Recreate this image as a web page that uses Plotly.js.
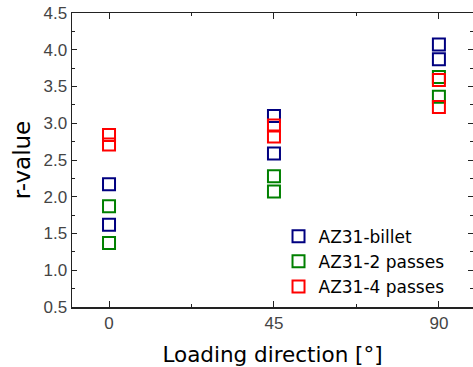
<!DOCTYPE html>
<html><head><meta charset="utf-8">
<script src="https://cdn.plot.ly/plotly-3.0.1.min.js"></script>
<style>html,body{margin:0;padding:0;overflow:hidden;background:#fff}</style>
</head><body><div id="chart" style="width:473px;height:367px"></div>
<script>
const angles = [0, 0, 45, 45, 90, 90];
const billet = [2.17, 1.62, 3.10, 2.59, 4.07, 3.87];
const passes2 = [1.87, 1.37, 2.28, 2.07, 3.63, 3.36];
const passes4 = [2.84, 2.71, 2.97, 2.82, 3.59, 3.22];
const names = ['AZ31-billet', 'AZ31-2 passes', 'AZ31-4 passes'];
const colors = ['#000080', '#008000', '#ff0000'];
const xTicks = [0, 45, 90];

const series = [billet, passes2, passes4];
const traces = series.map((ys, i) => ({
  x: angles, y: ys, name: names[i], type: 'scatter', mode: 'markers',
  marker: {symbol: 'square-open', size: 12, color: colors[i], line: {width: 2, color: colors[i]}}
}));

const fontFam = '"Liberation Sans", Arial, sans-serif';
const titleFam = '"DejaVu Sans", "Liberation Sans", sans-serif';
Plotly.newPlot('chart', traces, {
  width: 473, height: 367,
  margin: {l: 72, r: 0, t: 13, b: 60},
  paper_bgcolor: '#fff', plot_bgcolor: '#fff',
  font: {family: fontFam},
  showlegend: true,
  legend: {x: 0.515, y: 0.008, xanchor: 'left', yanchor: 'bottom', bgcolor: 'rgba(0,0,0,0)',
           font: {size: 17, color: '#000', family: titleFam}, tracegroupgap: 0, itemsizing: 'constant'},
  xaxis: {
    range: [-10.1, 99.3], tickvals: xTicks, ticktext: xTicks.map(String),
    ticks: 'inside', ticklen: 6, tickwidth: 1, tickcolor: '#222',
    showline: true, linecolor: '#222', linewidth: 1.5, mirror: 'ticks',
    showgrid: false, zeroline: false,
    tickfont: {size: 17, color: '#444'},
    minor: {tickvals: [22.5, 67.5], ticks: 'inside', ticklen: 3, tickcolor: '#222'},
    title: {text: 'Loading direction [°]', font: {size: 21.5, color: '#000', family: titleFam}, standoff: 15}
  },
  yaxis: {
    range: [0.5, 4.5], dtick: 0.5, tickformat: '.1f',
    ticks: 'inside', ticklen: 5, tickwidth: 1, tickcolor: '#222',
    showline: true, linecolor: '#222', linewidth: 1.5, mirror: 'ticks',
    showgrid: false, zeroline: false,
    tickfont: {size: 17, color: '#444'},
    minor: {dtick: 0.25, ticks: 'inside', ticklen: 3, tickcolor: '#222'},
    title: {text: 'r-value', font: {size: 23, color: '#000', family: titleFam}, standoff: 6}
  }
}, {displayModeBar: false, staticPlot: true});
</script></body></html>
